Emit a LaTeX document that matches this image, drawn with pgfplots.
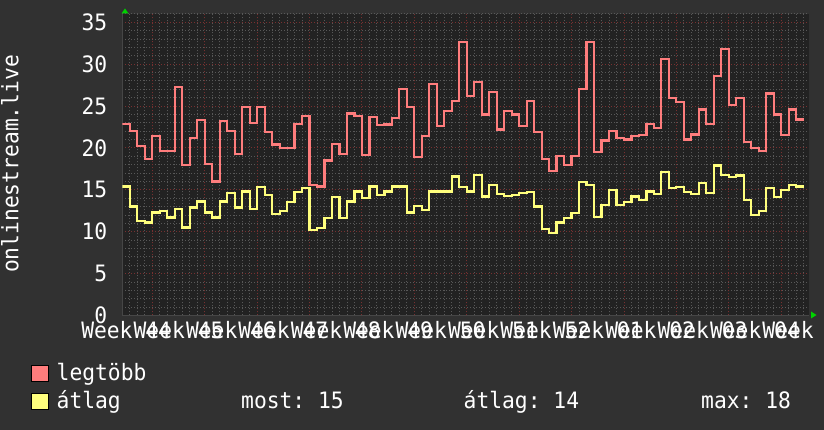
\documentclass[border=0pt]{standalone}
\usepackage{fontspec}
\usepackage{graphicx}
\usepackage{pgfplots}
\usepackage{pgfplotstable}
\pgfplotsset{compat=1.18}
\frenchspacing
\newfontfamily\mono{DejaVu Sans Mono}
\newcommand{\T}[1]{\scalebox{1}[1.06]{#1}}
\newcommand{\fnt}{\mono\fontsize{21.3pt}{24pt}\selectfont\frenchspacing}
\definecolor{backc}{RGB}{49,49,49}
\definecolor{canvas}{RGB}{34,34,34}
\definecolor{gridgray}{RGB}{88,88,88}
\definecolor{gridred}{RGB}{120,48,48}
\definecolor{axiscol}{RGB}{70,70,70}
\definecolor{redc}{RGB}{255,125,125}
\definecolor{yelc}{RGB}{255,255,125}
\definecolor{arrowg}{RGB}{0,210,0}
\pgfplotstableread{
day legtobb atlag
-4 22.9 15.4
-3 22.0 13.0
-2 20.2 11.3
-1 18.7 11.1
0 21.4 12.3
1 19.6 12.5
2 19.6 11.7
3 27.3 12.7
4 18.0 10.5
5 21.2 12.9
6 23.3 13.6
7 18.1 12.3
8 16.0 11.7
9 23.2 13.6
10 22.0 14.6
11 19.3 12.9
12 24.9 14.8
13 23.0 12.7
14 24.9 15.3
15 21.9 14.4
16 20.4 12.1
17 20.0 12.5
18 20.0 13.5
19 22.9 14.7
20 23.8 15.2
21 15.6 10.2
22 15.4 10.4
23 18.5 11.6
24 20.5 14.1
25 19.3 11.6
26 24.1 13.6
27 23.8 14.8
28 19.2 14.0
29 23.7 15.4
30 22.7 14.4
31 22.8 14.8
32 23.6 15.4
33 27.0 15.4
34 24.9 12.3
35 18.9 13.1
36 21.4 12.6
37 27.6 14.8
38 22.6 14.8
39 24.4 14.8
40 25.6 16.6
41 32.6 15.3
42 26.2 14.8
43 27.9 16.8
44 24.0 14.2
45 26.7 15.6
46 22.2 14.5
47 24.4 14.3
48 24.0 14.4
49 22.6 14.6
50 25.6 14.7
51 21.9 13.0
52 18.7 10.3
53 17.2 9.8
54 19.0 11.1
55 18.0 11.6
56 19.0 12.2
57 27.0 15.9
58 32.6 15.6
59 19.5 11.8
60 20.9 13.2
61 22.0 15.0
62 21.2 13.2
63 21.0 13.5
64 21.4 14.2
65 21.5 13.8
66 22.9 14.8
67 22.4 14.5
68 30.6 17.1
69 26.0 15.2
70 25.5 15.3
71 21.0 14.7
72 21.6 14.5
73 24.6 15.8
74 22.9 14.6
75 28.6 17.9
76 31.8 16.8
77 25.1 16.5
78 26.0 16.7
79 20.7 13.8
80 20.0 12.0
81 19.6 12.5
82 26.5 15.2
83 24.0 14.1
84 21.5 15.0
85 24.6 15.6
86 23.4 15.4
87 23.4 15.4
}\datatable
\begin{document}
\begin{tikzpicture}[x=1pt,y=1pt]
\useasboundingbox (0,0) rectangle (824,430);
\fill[backc] (0,0) rectangle (824,430);
\begin{axis}[
  at={(122.4pt,114.5pt)}, anchor=south west, scale only axis,
  width=686.6pt, height=301.6pt,
  xmin=-4, xmax=87.72, ymin=0, ymax=36,
  axis background/.style={fill=canvas},
  axis x line*=bottom, axis y line*=left,
  axis line style={draw=axiscol, line width=1pt},
  major tick length=0pt, minor tick length=0pt,
  xtick={-3.5,3.5,...,87.5},
  xticklabels={\T{Week 44},\T{Week 45},\T{Week 46},\T{Week 47},\T{Week 48},\T{Week 49},\T{Week 50},\T{Week 51},\T{Week 52},\T{Week 01},\T{Week 02},\T{Week 03},\T{Week 04},\T{Week 05}},
  minor xtick={-4,...,87},
  extra x ticks={0,7,...,84},
  extra x tick labels={},
  extra x tick style={xmajorgrids=true},
  ytick={0,5,...,35},
  yticklabels={\T{0},\T{5},\T{10},\T{15},\T{20},\T{25},\T{30},\T{35}},
  minor ytick={0,...,36},
  xminorgrids, yminorgrids, ymajorgrids,
  minor grid style={draw=gridgray, line width=0.9pt, dash pattern=on 1pt off 2pt},
  major grid style={draw=gridred, line width=0.9pt, dash pattern=on 1pt off 2pt},
  xticklabel style={font=\fnt, text=white, anchor=base, inner sep=0pt, yshift=-22.8pt},
  yticklabel style={font=\fnt, text=white, anchor=east, inner sep=0pt, xshift=-15pt},
]
\addplot[const plot mark left, draw=redc, line width=2.2pt, mark=none] table[x=day, y=legtobb] {\datatable};
\addplot[const plot mark left, draw=yelc, line width=2.2pt, mark=none] table[x=day, y=atlag] {\datatable};
\end{axis}
% axis arrows
\fill[arrowg] (121.5,416.5) -- (128.5,416.5) -- (125,421.5) -- cycle;
\fill[arrowg] (811,118.5) -- (811,111.5) -- (816.5,115) -- cycle;
% y label
\node[rotate=90, anchor=base, font=\fnt, text=white, inner sep=0pt] at (18.3,266) {\T{onlinestream.live}};
% legend
\filldraw[fill=redc, draw=black, line width=1pt] (31,48.3) rectangle (48.3,64.3);
\filldraw[fill=yelc, draw=black, line width=1pt] (31,20) rectangle (48.3,36);
\node[anchor=base west, font=\fnt, text=white, inner sep=0pt] at (56.5,49.3) {\T{legtöbb}};
\node[anchor=base west, font=\fnt, text=white, inner sep=0pt] at (56.5,21.7) {\T{átlag}};
\node[anchor=base west, font=\fnt, text=white, inner sep=0pt] at (241,21.7) {\T{most: 15}};
\node[anchor=base west, font=\fnt, text=white, inner sep=0pt] at (463.5,21.7) {\T{átlag: 14}};
\node[anchor=base west, font=\fnt, text=white, inner sep=0pt] at (701,21.7) {\T{max: 18}};
\end{tikzpicture}
\end{document}
